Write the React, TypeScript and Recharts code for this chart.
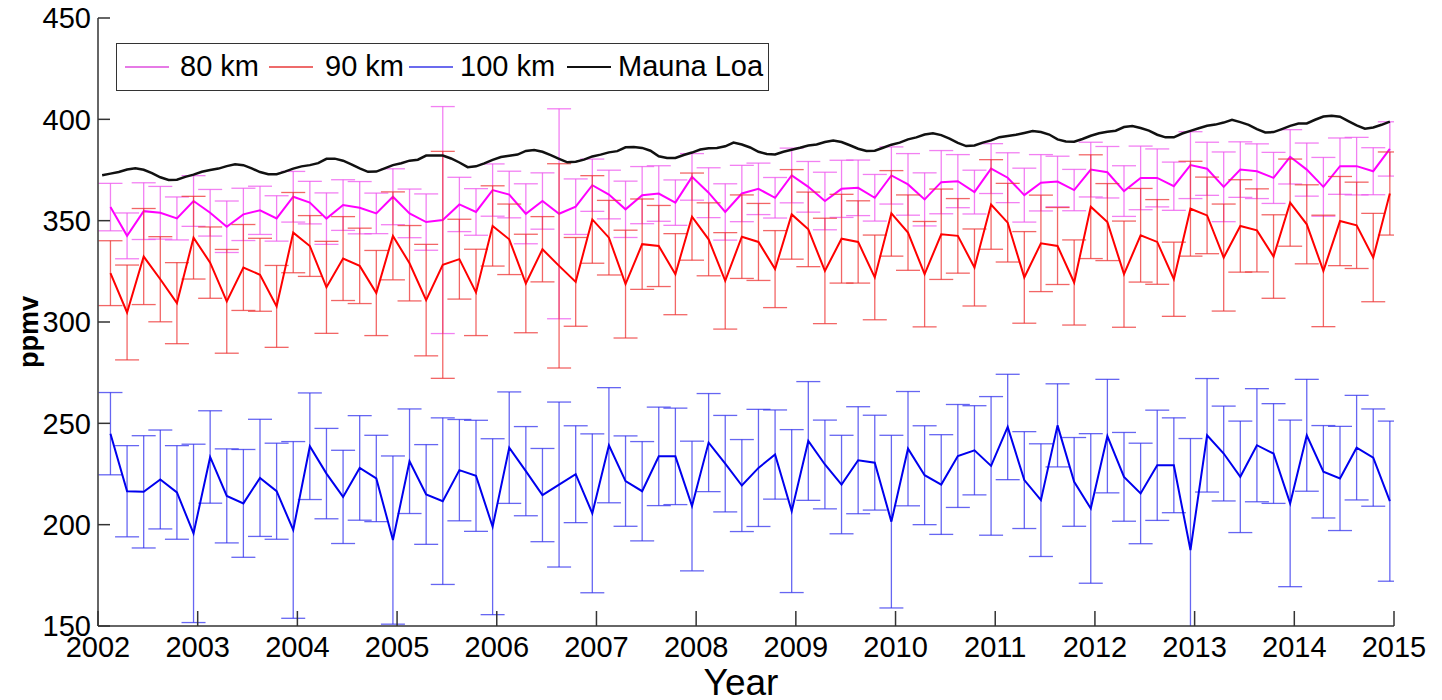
import { LineChart, Line, XAxis, YAxis, ErrorBar, Label } from 'recharts'

// time axis ticks and ppmv ticks
const years = [2002, 2003, 2004, 2005, 2006, 2007, 2008, 2009, 2010, 2011, 2012, 2013, 2014, 2015]
const ppmvTicks = [150, 200, 250, 300, 350, 400, 450]

// bi-monthly means (78 points, Feb 2002 .. Dec 2014)
const km80 = [
  356.7, 342.5, 354.7, 353.9, 351.1, 359.7, 353.9, 347.0, 353.1, 355.1, 351.1, 361.8, 358.9,
  351.0, 357.7, 356.4, 353.6, 361.8, 353.6, 349.3, 350.3, 358.0, 354.3, 365.1, 362.9, 353.4,
  359.7, 353.4, 356.9, 367.5, 362.9, 355.6, 362.6, 363.4, 358.9, 371.6, 363.8, 354.3, 363.4,
  365.7, 361.3, 372.3, 366.7, 359.7, 365.7, 366.2, 361.3, 372.3, 367.9, 360.5, 369.0, 369.5,
  364.1, 375.7, 371.2, 362.6, 368.7, 369.3, 365.1, 375.2, 373.9, 364.6, 371.1, 371.1, 367.0,
  377.4, 375.6, 366.7, 375.2, 374.4, 371.1, 381.5, 375.2, 366.7, 376.9, 376.9, 374.4, 385.4,
]
const err80 = [
  11.7, 11.3, 14, 13, 10.6, 12.5, 11.5, 12.7, 12.9, 11.9, 11.2, 12.5, 10.5,
  12.7, 12.5, 12.9, 10, 13.8, 12, 13.9, 56, 13.4, 11.5, 12.9, 11.5, 14.8,
  13.9, 51.8, 13.7, 12.9, 12, 13.9, 14.1, 13.7, 11.2, 11.5, 12.3, 13.9, 13.9,
  12.7, 10, 13.5, 12.5, 14.2, 14.1, 13.7, 11.5, 14.1, 15.2, 13.1, 15.6, 13.1,
  10.8, 12.3, 12.3, 13.3, 13.9, 12.5, 10.2, 13.5, 12.7, 12.5, 15.7, 14.3, 11.9,
  16.5, 13.1, 17.2, 13.7, 13.5, 12.6, 13.4, 13.1, 14.5, 13.9, 14.2, 11.6, 13.4,
]
const km90 = [
  324.1, 304.7, 332.3, 321.1, 309.3, 341.6, 329.3, 310.2, 326.9, 323.3, 307.7, 344.1, 337.5,
  317.1, 331.3, 327.7, 314.3, 342.5, 329.0, 310.8, 328.2, 331.0, 314.6, 347.4, 340.8, 319.0,
  335.9, 327.7, 319.8, 350.6, 341.6, 318.7, 338.4, 337.5, 323.6, 352.0, 340.8, 320.3, 342.1,
  339.5, 326.1, 353.1, 345.7, 325.2, 341.1, 339.5, 322.0, 353.6, 344.1, 323.6, 343.3, 342.5,
  326.9, 358.0, 349.0, 322.0, 338.8, 337.5, 319.5, 356.9, 349.3, 323.6, 342.8, 339.5, 321.1,
  355.9, 352.6, 331.8, 347.4, 345.2, 332.3, 358.9, 348.2, 325.2, 349.8, 347.7, 331.8, 363.4,
]
const err90 = [
  16, 23.4, 23.7, 21, 20, 20.4, 17.6, 25.6, 21.2, 18, 20.2, 19.8, 15,
  22.7, 20.7, 18.6, 21, 21.7, 18.6, 27.5, 56, 19.7, 21.3, 19.8, 17.4, 24.3,
  16.1, 50.4, 21.9, 21.6, 18.4, 26.6, 22.3, 20, 20, 21.5, 18, 23.8, 20.6,
  19, 19, 22.1, 18.4, 26, 21.9, 20.3, 20.9, 21.1, 18.6, 26, 22.3, 18.4,
  19, 22.1, 19.4, 22.6, 23.8, 19, 21, 25.6, 19, 26.2, 23.1, 20.9, 18.3,
  23.4, 18.9, 26.4, 22.8, 20.5, 20.6, 21.5, 19.5, 27.5, 22, 21.3, 21.8, 20.5,
]
const km100 = [
  244.9, 216.5, 216.2, 222.3, 215.9, 195.7, 233.4, 214.2, 210.5, 223.1, 216.5, 197.4, 238.7,
  225.2, 213.7, 228.0, 222.8, 192.4, 231.3, 214.9, 211.6, 226.9, 224.1, 199.0, 238.0, 226.4,
  214.6, 219.8, 224.9, 205.6, 239.2, 221.5, 216.5, 233.7, 233.7, 209.2, 240.5, 230.1, 219.3,
  228.0, 234.6, 206.7, 241.3, 229.7, 219.8, 231.8, 230.6, 201.5, 237.5, 224.4, 219.8, 233.9,
  236.7, 229.0, 248.2, 222.0, 212.1, 249.0, 221.1, 208.0, 243.7, 223.6, 215.4, 229.3, 229.3,
  187.5, 244.1, 235.1, 223.6, 239.2, 235.1, 210.5, 244.1, 226.1, 222.8, 238.0, 233.1, 211.6,
]
const err100 = [
  20.3, 22.5, 27.7, 24.4, 23.1, 44, 22.8, 23.2, 26.6, 28.9, 23.7, 43.6, 26.3,
  22.3, 23, 25.8, 21.3, 41.5, 25.8, 24.6, 41.1, 25, 27.4, 43.4, 27.5, 22,
  23, 40.7, 23.9, 39.2, 28.4, 22.3, 24.5, 24.3, 23.8, 32, 24.2, 23.8, 22.7,
  28.9, 22, 40.2, 29.3, 21.9, 24.3, 26.4, 23.4, 42.6, 28.2, 24.4, 24.6, 25.4,
  22, 34.2, 26, 23.9, 27.8, 20.5, 21.9, 36.9, 28, 21.9, 24.8, 27.2, 23.4,
  55, 28, 23.4, 27.5, 27.9, 24.6, 41.1, 27.6, 22.8, 25.7, 25.8, 24, 39.5,
]

// Mauna Loa monthly means, Jan 2002 .. Dec 2014
const maunaLoa = [
  372.4, 373.2, 374.0, 375.2, 375.8, 375.1, 373.5, 371.4, 370.1, 370.2, 371.6, 372.7,
  374.1, 375.0, 375.7, 376.9, 377.8, 377.4, 375.8, 374.0, 372.9, 372.9, 374.2, 375.7,
  376.8, 377.4, 378.4, 380.5, 380.6, 379.6, 377.8, 375.8, 374.1, 374.2, 375.8, 377.4,
  378.3, 379.6, 380.1, 382.1, 382.2, 382.1, 380.7, 378.7, 376.4, 376.8, 378.3, 380.0,
  381.4, 382.0, 382.6, 384.4, 384.9, 384.0, 382.3, 380.5, 378.8, 379.1, 380.1, 381.7,
  382.6, 383.7, 384.3, 386.2, 386.4, 385.9, 384.5, 381.8, 380.9, 380.9, 382.4, 383.6,
  385.1, 385.7, 385.9, 386.7, 388.5, 387.6, 386.1, 384.0, 382.9, 382.7, 384.0, 385.0,
  386.0, 387.1, 387.6, 388.8, 389.5, 388.8, 387.2, 385.5, 384.4, 384.5, 386.0, 387.5,
  388.5, 390.1, 391.1, 392.5, 393.1, 392.2, 390.5, 388.4, 386.8, 387.1, 388.5, 389.6,
  391.2, 391.8, 392.4, 393.3, 394.2, 393.7, 392.5, 390.1, 389.1, 389.0, 390.3, 391.9,
  393.1, 393.9, 394.4, 396.2, 396.7, 395.7, 394.4, 392.4, 391.1, 391.1, 393.0, 394.3,
  395.6, 396.8, 397.4, 398.4, 399.8, 398.6, 397.3, 395.2, 393.5, 393.7, 395.2, 396.8,
  397.9, 398.0, 399.8, 401.4, 401.8, 401.3, 399.1, 397.0, 395.4, 396.0, 397.3, 398.9,
]

const FONT = '"Liberation Sans", Arial, Helvetica, sans-serif'

// sample i is the centre of the i-th two-month bin
const toBimonthly = (vals: number[], errs: number[]) =>
  vals.map((v, i) => ({ t: 2002 + (i + 0.75) / 6, v, e: errs[i] }))

const d80 = toBimonthly(km80, err80)
const d90 = toBimonthly(km90, err90)
const d100 = toBimonthly(km100, err100)
const dML = maunaLoa.map((v, i) => ({ t: 2002 + (i + 0.5) / 12, v }))

const legendItems = [
  { name: '80 km', color: '#e67ae6', sample: 8, text: 63 },
  { name: '90 km', color: '#ee6b6b', sample: 152, text: 208 },
  { name: '100 km', color: '#6b6bee', sample: 292, text: 343 },
  { name: 'Mauna Loa', color: '#111', sample: 450, text: 501 },
]

// plot box in pixels (chart margins + axis sizes below)
const PLOT = { left: 98, top: 18, width: 1296, height: 608 }

const tickStyle = { fontSize: 29, fill: '#000', fontFamily: FONT }
const axisStroke = { stroke: '#333', strokeWidth: 1.5 }

export default function App() {
  return (
    <div style={{ position: 'fixed', left: 0, top: 0, width: 1442, height: 700, background: '#fff' }}>
      <LineChart width={1442} height={700} margin={{ top: PLOT.top, right: 48, bottom: 0, left: 0 }}>
        <defs>
          <clipPath id="plot-clip">
            <rect x={PLOT.left} y={PLOT.top} width={PLOT.width} height={PLOT.height} />
          </clipPath>
        </defs>
        <XAxis
          xAxisId="b" type="number" dataKey="t" domain={[2002, 2015]} ticks={years}
          allowDataOverflow height={74} tickSize={-15} tickMargin={25}
          tick={tickStyle} axisLine={axisStroke} tickLine={axisStroke}
        >
          <Label
            content={() => (
              <text x={741} y={695} textAnchor="middle" fontSize={37} fontFamily={FONT} fill="#000">
                Year
              </text>
            )}
          />
        </XAxis>
        <XAxis
          xAxisId="t" orientation="top" type="number" domain={[2002, 2015]} ticks={years}
          allowDataOverflow height={0} tickSize={-15} tickFormatter={() => ''}
          axisLine={axisStroke} tickLine={axisStroke}
        />
        <YAxis
          yAxisId="l" type="number" domain={[150, 450]} ticks={ppmvTicks}
          allowDataOverflow width={98} tickSize={-12} tickMargin={19}
          tick={tickStyle} axisLine={axisStroke} tickLine={axisStroke}
        >
          <Label
            content={() => (
              <text
                x={38} y={332} transform="rotate(-90 38 332)" textAnchor="middle"
                fontSize={27} fontWeight="bold" fontFamily={FONT} fill="#000"
              >
                ppmv
              </text>
            )}
          />
        </YAxis>
        <YAxis
          yAxisId="r" orientation="right" type="number" domain={[150, 450]} ticks={ppmvTicks}
          allowDataOverflow width={0} tickSize={-12} tickFormatter={() => ''}
          axisLine={axisStroke} tickLine={axisStroke}
        />

        <Line
          xAxisId="b" yAxisId="l" data={d80} dataKey="v" name="80 km" type="linear"
          stroke="#ff00ff" strokeWidth={2} dot={false} isAnimationActive={false}
        >
          <ErrorBar
            dataKey="e" direction="y" width={12} stroke="#ee55ee" strokeOpacity={0.75}
            strokeWidth={1.3} clipPath="url(#plot-clip)"
          />
        </Line>
        <Line
          xAxisId="b" yAxisId="l" data={d90} dataKey="v" name="90 km" type="linear"
          stroke="#ff0000" strokeWidth={2} dot={false} isAnimationActive={false}
        >
          <ErrorBar
            dataKey="e" direction="y" width={12} stroke="#ee3333" strokeOpacity={0.75}
            strokeWidth={1.3} clipPath="url(#plot-clip)"
          />
        </Line>
        <Line
          xAxisId="b" yAxisId="l" data={d100} dataKey="v" name="100 km" type="linear"
          stroke="#0000ee" strokeWidth={2} dot={false} isAnimationActive={false}
        >
          <ErrorBar
            dataKey="e" direction="y" width={12} stroke="#3333ee" strokeOpacity={0.75}
            strokeWidth={1.3} clipPath="url(#plot-clip)"
          />
        </Line>
        <Line
          xAxisId="b" yAxisId="l" data={dML} dataKey="v" name="Mauna Loa" type="linear"
          stroke="#111" strokeWidth={2.5} dot={false} isAnimationActive={false}
        />
      </LineChart>

      {/* legend box */}
      <div
        style={{
          position: 'absolute', left: 116, top: 43, width: 651, height: 46,
          border: '1.5px solid #333', background: '#fff', fontFamily: FONT, fontSize: 29,
        }}
      >
        {legendItems.map(item => (
          <div key={item.name}>
            <div
              style={{
                position: 'absolute', left: item.sample, top: 22, width: 44, height: 0,
                borderTop: `2px solid ${item.color}`,
              }}
            />
            <div style={{ position: 'absolute', left: item.text, top: 5, lineHeight: '34px', whiteSpace: 'nowrap' }}>
              {item.name}
            </div>
          </div>
        ))}
      </div>
    </div>
  )
}
